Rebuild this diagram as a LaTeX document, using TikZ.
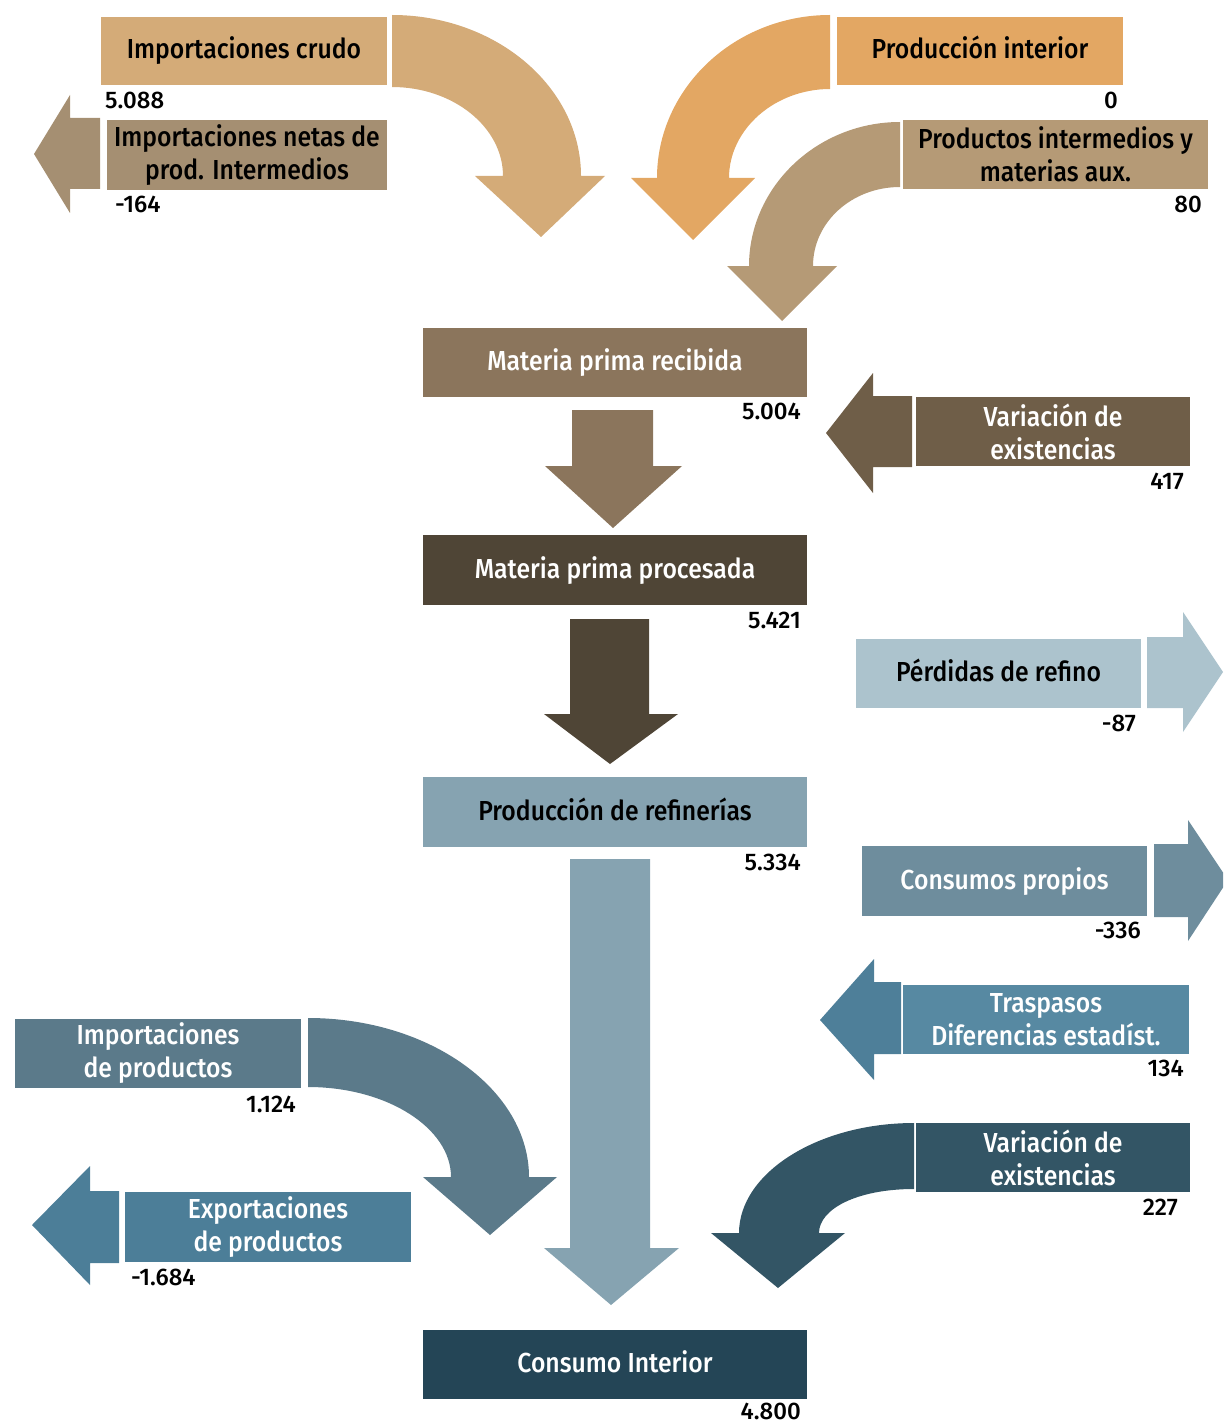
\documentclass[tikz,border=0pt]{standalone}
\usepackage{fontspec}
\setmainfont{Fira Sans Medium}[FakeStretch=0.9]
\newfontfamily\numfont{Fira Sans Medium}
\definecolor{cImpCrudo}{HTML}{D4AB78}
\definecolor{cProdInt}{HTML}{E3A763}
\definecolor{cNetas}{HTML}{A58F72}
\definecolor{cInterm}{HTML}{B59A76}
\definecolor{cMPRec}{HTML}{8B755C}
\definecolor{cVar1}{HTML}{6F5E48}
\definecolor{cMPProc}{HTML}{4F4536}
\definecolor{cPerd}{HTML}{ACC3CD}
\definecolor{cRefin}{HTML}{86A3B1}
\definecolor{cCons}{HTML}{6E8D9D}
\definecolor{cTrasp}{HTML}{5789A2}
\definecolor{cTraspA}{HTML}{4E7F99}
\definecolor{cImpProd}{HTML}{5B7A8A}
\definecolor{cVar2}{HTML}{335565}
\definecolor{cExport}{HTML}{4C7E98}
\definecolor{cConsInt}{HTML}{244556}
\begin{document}
\begin{tikzpicture}[x=1pt,y=-1pt,
  box/.style={inner sep=0pt, align=center, font=\fontsize{27.5}{33}\selectfont},
  darkbox/.style={box, text=white},
  lightbox/.style={box, text=black},
  oneline/.style={text height=23pt, text depth=7pt},
  num/.style={inner sep=0pt, font=\numfont\fontsize{24}{28}\selectfont, text=black},
]
\useasboundingbox (0,0) rectangle (1223,1423);
\clip (0,0) rectangle (1223,1423);

% ---------- arrows ----------
% curved: Importaciones crudo
\fill[cImpCrudo] (392,15) .. controls (496,15) and (581,87) .. (581,176)
  -- (605,176) -- (541,237) -- (475,176) -- (503,176)
  .. controls (503,127) and (453,87) .. (392,87) -- cycle;
% curved: Produccion interior
\fill[cProdInt] (830,15) .. controls (735,15) and (657,88) .. (657,178)
  -- (631,178) -- (693,240) -- (755,178) -- (729,178)
  .. controls (729,129) and (775,89) .. (830,89) -- cycle;
% curved: Productos intermedios
\fill[cInterm] (900,122) .. controls (817,122) and (749,187) .. (749,266)
  -- (727,266) -- (782,321) -- (837,266) -- (813,266)
  .. controls (813,222) and (852,187) .. (900,187) -- cycle;
% left arrow: netas
\fill[cNetas] (34,154) -- (70,95) -- (70,118) -- (100,118) -- (100,189)
  -- (70,189) -- (70,213) -- cycle;
% down arrow 1
\fill[cMPRec] (572,410) -- (653,410) -- (653,466) -- (682,466) -- (613,528)
  -- (545,466) -- (572,466) -- cycle;
% left arrow: variacion 1
\fill[cVar1] (826,433) -- (873,373) -- (873,396) -- (912,396) -- (912,467)
  -- (873,467) -- (873,493) -- cycle;
% down arrow 2
\fill[cMPProc] (570,619) -- (649,619) -- (649,714) -- (678,714) -- (610,764)
  -- (544,714) -- (570,714) -- cycle;
% right arrow: perdidas
\fill[cPerd] (1147,637) -- (1183,637) -- (1183,612) -- (1223,672) -- (1183,732)
  -- (1183,708) -- (1147,708) -- cycle;
% right arrow: consumos
\fill[cCons] (1154,844) -- (1188,844) -- (1188,820) -- (1228,880) -- (1188,941)
  -- (1188,917) -- (1154,917) -- cycle;
% big down arrow
\fill[cRefin] (570,859) -- (650,859) -- (650,1248) -- (679,1248) -- (611,1305)
  -- (544,1248) -- (570,1248) -- cycle;
% left arrow: traspasos
\fill[cTraspA] (820,1020) -- (874,959) -- (874,982) -- (901,982) -- (901,1054)
  -- (874,1054) -- (874,1080) -- cycle;
% curved: importaciones de productos
\fill[cImpProd] (308,1018) .. controls (430,1018) and (529,1090) .. (529,1177)
  -- (557,1177) -- (490,1235) -- (423,1177) -- (451,1177)
  .. controls (451,1128) and (387,1087) .. (308,1087) -- cycle;
% left arrow: exportaciones
\fill[cExport] (32,1225) -- (90,1166) -- (90,1191) -- (119,1191) -- (119,1263)
  -- (90,1263) -- (90,1285) -- cycle;
% curved: variacion 2
\fill[cVar2] (914,1123) .. controls (818,1123) and (739,1173) .. (739,1233)
  -- (711,1233) -- (778,1288) -- (845,1233) -- (819,1233)
  .. controls (819,1209) and (857,1189) .. (914,1189) -- cycle;

% ---------- boxes ----------
\node[lightbox, oneline, fill=cImpCrudo, minimum width=286pt, minimum height=68pt] (impcrudo) at (244,51) {Importaciones crudo};
\node[lightbox, fill=cNetas, minimum width=280pt, minimum height=70pt] (netas) at (247,155) {Importaciones netas de\\prod. Intermedios};
\node[lightbox, oneline, fill=cProdInt, minimum width=286pt, minimum height=68pt] (prodint) at (980,51) {Producción interior};
\node[lightbox, fill=cInterm, minimum width=305pt, minimum height=69pt] (interm) at (1055.5,154.5) {Productos intermedios y\\materias aux.};
\node[darkbox, oneline, fill=cMPRec, minimum width=384pt, minimum height=69pt] (mprec) at (615,362.5) {Materia prima recibida};
\node[darkbox, fill=cVar1, minimum width=274pt, minimum height=69pt] (var1) at (1053,431.5) {Variación de\\existencias};
\node[darkbox, oneline, fill=cMPProc, minimum width=384pt, minimum height=70pt] (mpproc) at (615,570) {Materia prima procesada};
\node[lightbox, oneline, fill=cPerd, minimum width=285pt, minimum height=69pt] (perd) at (998.5,673.5) {Pérdidas de refino};
\node[lightbox, oneline, fill=cRefin, minimum width=384pt, minimum height=70pt] (refin) at (615,812) {Producción de refinerías};
\node[darkbox, oneline, fill=cCons, minimum width=285pt, minimum height=70pt] (cons) at (1004.5,881) {Consumos propios};
\node[darkbox, fill=cTrasp, minimum width=286pt, minimum height=69pt] (trasp) at (1046,1019.5) {Traspasos\\Diferencias estadíst.};
\node[darkbox, fill=cImpProd, minimum width=286pt, minimum height=69pt] (impprod) at (158,1053.5) {Importaciones\\de productos};
\node[darkbox, fill=cVar2, minimum width=274pt, minimum height=69pt] (var2) at (1053,1157.5) {Variación de\\existencias};
\node[darkbox, fill=cExport, minimum width=286pt, minimum height=70pt] (export) at (268,1227) {Exportaciones\\de productos};
\node[darkbox, oneline, fill=cConsInt, minimum width=384pt, minimum height=69pt] (consint) at (615,1364.5) {Consumo Interior};

% ---------- numbers ----------
\node[num, anchor=west] (n1) at (105,100) {5.088};
\node[num, anchor=west] (n2) at (115,204) {-164};
\node[num, anchor=east] (n3) at (1118,100) {0};
\node[num, anchor=east] (n4) at (1202,204) {80};
\node[num, anchor=east] (n5) at (801,411) {5.004};
\node[num, anchor=east] (n6) at (1184,481) {417};
\node[num, anchor=east] (n7) at (801,620) {5.421};
\node[num, anchor=east] (n8) at (1136,723) {-87};
\node[num, anchor=east] (n9) at (801,862) {5.334};
\node[num, anchor=east] (n10) at (1141,930) {-336};
\node[num, anchor=east] (n11) at (1184,1068) {134};
\node[num, anchor=east] (n12) at (296,1104) {1.124};
\node[num, anchor=east] (n13) at (1178,1207) {227};
\node[num, anchor=west] (n14) at (131,1277) {-1.684};
\node[num, anchor=east] (n15) at (801,1411) {4.800};
\end{tikzpicture}
\end{document}
